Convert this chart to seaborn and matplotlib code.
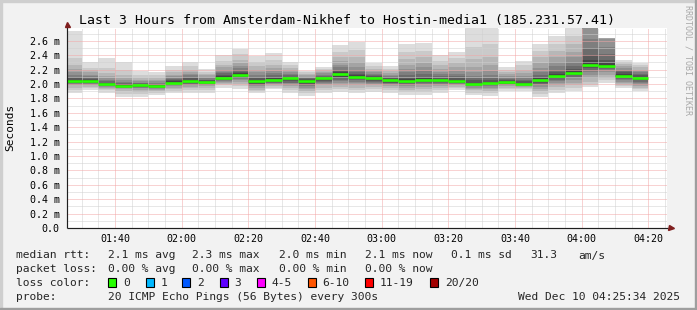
import numpy as np
import pandas as pd
import matplotlib
matplotlib.use("Agg")
import matplotlib.pyplot as plt
import seaborn as sns
from matplotlib.patches import Rectangle
from matplotlib.ticker import MultipleLocator, FixedLocator

# ---------------- data (values in ms) ----------------
window_start = "01:25:34"
window_end = "04:25:34"
bin_ends = ["01:30", "01:35", "01:40", "01:45", "01:50", "01:55", "02:00", "02:05",
            "02:10", "02:15", "02:20", "02:25", "02:30", "02:35", "02:40", "02:45",
            "02:50", "02:55", "03:00", "03:05", "03:10", "03:15", "03:20", "03:25",
            "03:30", "03:35", "03:40", "03:45", "03:50", "03:55", "04:00", "04:05",
            "04:10", "04:15", "04:20"]

medians = [2.045, 2.045, 2.000, 1.975, 1.980, 1.967, 2.017, 2.045, 2.022, 2.090,
           2.128, 2.045, 2.054, 2.077, 2.045, 2.077, 2.138, 2.100, 2.090, 2.054,
           2.045, 2.058, 2.054, 2.045, 2.000, 2.008, 2.022, 2.000, 2.054, 2.114,
           2.156, 2.270, 2.253, 2.114, 2.078]

pings = [
    [1.87, 1.92, 1.95, 1.98, 1.99, 2.00, 2.01, 2.02, 2.03, 2.04, 2.05, 2.06, 2.08, 2.10, 2.13, 2.17, 2.21, 2.26, 2.36, 2.74],
    [1.91, 1.94, 1.96, 1.98, 1.99, 2.00, 2.01, 2.02, 2.03, 2.04, 2.05, 2.06, 2.07, 2.09, 2.11, 2.13, 2.16, 2.19, 2.22, 2.30],
    [1.88, 1.91, 1.93, 1.95, 1.96, 1.97, 1.98, 1.985, 1.99, 1.995, 2.005, 2.01, 2.02, 2.04, 2.06, 2.08, 2.11, 2.15, 2.22, 2.36],
    [1.82, 1.86, 1.90, 1.93, 1.94, 1.95, 1.96, 1.965, 1.97, 1.975, 1.98, 1.99, 2.00, 2.01, 2.03, 2.05, 2.08, 2.12, 2.20, 2.31],
    [1.82, 1.86, 1.89, 1.92, 1.94, 1.95, 1.96, 1.965, 1.97, 1.975, 1.985, 1.99, 2.00, 2.01, 2.02, 2.04, 2.06, 2.09, 2.13, 2.18],
    [1.85, 1.88, 1.90, 1.92, 1.93, 1.94, 1.95, 1.955, 1.96, 1.965, 1.97, 1.98, 1.99, 2.00, 2.02, 2.04, 2.06, 2.09, 2.12, 2.16],
    [1.875, 1.90, 1.93, 1.95, 1.97, 1.98, 1.99, 2.00, 2.01, 2.015, 2.02, 2.035, 2.05, 2.07, 2.09, 2.11, 2.13, 2.16, 2.20, 2.245],
    [1.875, 1.91, 1.94, 1.96, 1.98, 1.99, 2.00, 2.01, 2.025, 2.04, 2.05, 2.06, 2.08, 2.10, 2.12, 2.14, 2.17, 2.20, 2.25, 2.31],
    [1.88, 1.92, 1.95, 1.97, 1.98, 1.99, 2.00, 2.01, 2.015, 2.02, 2.025, 2.04, 2.05, 2.06, 2.08, 2.10, 2.12, 2.14, 2.17, 2.21],
    [1.95, 1.98, 2.00, 2.02, 2.03, 2.04, 2.05, 2.06, 2.07, 2.085, 2.095, 2.11, 2.13, 2.15, 2.17, 2.20, 2.23, 2.27, 2.32, 2.40],
    [1.93, 1.97, 2.00, 2.03, 2.05, 2.07, 2.08, 2.09, 2.11, 2.12, 2.135, 2.15, 2.17, 2.19, 2.22, 2.25, 2.29, 2.34, 2.41, 2.49],
    [1.88, 1.90, 1.92, 1.95, 1.97, 1.98, 1.99, 2.00, 2.02, 2.04, 2.05, 2.06, 2.08, 2.10, 2.13, 2.16, 2.20, 2.25, 2.31, 2.39],
    [1.925, 1.95, 1.97, 1.99, 2.00, 2.01, 2.02, 2.03, 2.04, 2.05, 2.06, 2.08, 2.10, 2.12, 2.15, 2.18, 2.22, 2.27, 2.34, 2.43],
    [1.875, 1.91, 1.94, 1.97, 1.99, 2.01, 2.02, 2.04, 2.05, 2.07, 2.085, 2.09, 2.10, 2.12, 2.14, 2.16, 2.19, 2.22, 2.26, 2.31],
    [1.835, 1.87, 1.90, 1.93, 1.95, 1.97, 1.99, 2.00, 2.02, 2.04, 2.05, 2.055, 2.07, 2.08, 2.09, 2.10, 2.12, 2.14, 2.16, 2.18],
    [1.88, 1.92, 1.95, 1.98, 2.00, 2.02, 2.03, 2.04, 2.05, 2.07, 2.085, 2.09, 2.10, 2.11, 2.13, 2.15, 2.17, 2.19, 2.21, 2.235],
    [1.89, 1.93, 1.96, 1.99, 2.02, 2.04, 2.06, 2.08, 2.10, 2.13, 2.145, 2.16, 2.18, 2.20, 2.23, 2.27, 2.32, 2.38, 2.45, 2.54],
    [1.88, 1.92, 1.95, 1.98, 2.01, 2.03, 2.05, 2.07, 2.08, 2.095, 2.105, 2.12, 2.14, 2.17, 2.20, 2.24, 2.30, 2.37, 2.47, 2.59],
    [1.89, 1.93, 1.96, 1.98, 2.00, 2.02, 2.03, 2.045, 2.06, 2.085, 2.095, 2.10, 2.11, 2.12, 2.14, 2.16, 2.18, 2.21, 2.25, 2.285],
    [1.88, 1.92, 1.95, 1.97, 1.99, 2.00, 2.01, 2.02, 2.035, 2.05, 2.06, 2.07, 2.08, 2.10, 2.11, 2.13, 2.15, 2.18, 2.21, 2.25],
    [1.85, 1.89, 1.92, 1.95, 1.97, 1.99, 2.00, 2.02, 2.03, 2.04, 2.05, 2.07, 2.09, 2.12, 2.16, 2.21, 2.27, 2.35, 2.44, 2.555],
    [1.845, 1.89, 1.93, 1.96, 1.98, 2.00, 2.01, 2.025, 2.04, 2.055, 2.06, 2.08, 2.10, 2.14, 2.18, 2.23, 2.29, 2.37, 2.46, 2.57],
    [1.88, 1.92, 1.95, 1.97, 1.99, 2.00, 2.015, 2.03, 2.04, 2.05, 2.06, 2.07, 2.09, 2.11, 2.14, 2.17, 2.21, 2.26, 2.32, 2.40],
    [1.91, 1.94, 1.96, 1.98, 1.99, 2.00, 2.01, 2.02, 2.03, 2.04, 2.05, 2.06, 2.08, 2.11, 2.14, 2.18, 2.23, 2.29, 2.36, 2.45],
    [1.845, 1.88, 1.91, 1.93, 1.95, 1.97, 1.98, 1.99, 1.995, 2.00, 2.005, 2.02, 2.05, 2.08, 2.11, 2.16, 2.24, 2.35, 2.52, 2.90],
    [1.835, 1.87, 1.90, 1.93, 1.95, 1.97, 1.98, 1.99, 2.00, 2.005, 2.01, 2.03, 2.06, 2.09, 2.13, 2.18, 2.26, 2.38, 2.56, 2.90],
    [1.905, 1.93, 1.95, 1.97, 1.98, 1.99, 2.00, 2.005, 2.01, 2.02, 2.025, 2.035, 2.05, 2.07, 2.09, 2.11, 2.14, 2.17, 2.20, 2.24],
    [1.905, 1.93, 1.95, 1.96, 1.97, 1.98, 1.99, 1.995, 2.00, 2.00, 2.005, 2.02, 2.04, 2.06, 2.08, 2.11, 2.15, 2.20, 2.26, 2.32],
    [1.815, 1.86, 1.90, 1.93, 1.96, 1.98, 2.00, 2.02, 2.04, 2.05, 2.06, 2.08, 2.10, 2.13, 2.17, 2.22, 2.29, 2.37, 2.46, 2.555],
    [1.88, 1.92, 1.96, 1.99, 2.02, 2.04, 2.06, 2.08, 2.09, 2.11, 2.12, 2.14, 2.17, 2.20, 2.25, 2.31, 2.38, 2.46, 2.55, 2.665],
    [1.90, 1.95, 1.99, 2.02, 2.05, 2.08, 2.10, 2.12, 2.14, 2.15, 2.16, 2.18, 2.21, 2.25, 2.30, 2.37, 2.45, 2.55, 2.66, 2.85],
    [1.96, 1.99, 2.03, 2.08, 2.12, 2.16, 2.19, 2.22, 2.245, 2.26, 2.28, 2.33, 2.40, 2.50, 2.62, 2.90, 3.00, 3.10, 3.30, 3.60],
    [2.02, 2.05, 2.09, 2.13, 2.16, 2.19, 2.21, 2.23, 2.245, 2.25, 2.26, 2.29, 2.34, 2.42, 2.52, 2.63, 2.635, 2.637, 2.638, 2.64],
    [1.94, 1.97, 1.99, 2.01, 2.03, 2.05, 2.07, 2.08, 2.095, 2.11, 2.12, 2.14, 2.16, 2.18, 2.20, 2.22, 2.25, 2.28, 2.31, 2.33],
    [1.905, 1.93, 1.95, 1.97, 1.99, 2.01, 2.03, 2.05, 2.065, 2.075, 2.085, 2.10, 2.12, 2.14, 2.16, 2.18, 2.20, 2.23, 2.26, 2.285],
]

x_tick_labels = ["01:40", "02:00", "02:20", "02:40", "03:00", "03:20", "03:40", "04:00", "04:20"]
y_tick_values = [0.0, 0.2, 0.4, 0.6, 0.8, 1.0, 1.2, 1.4, 1.6, 1.8, 2.0, 2.2, 2.4, 2.6]
y_tick_labels = ["0.0", "0.2 m", "0.4 m", "0.6 m", "0.8 m", "1.0 m", "1.2 m", "1.4 m",
                 "1.6 m", "1.8 m", "2.0 m", "2.2 m", "2.4 m", "2.6 m"]
y_max = 2.7778

title = "Last 3 Hours from Amsterdam-Nikhef to Hostin-media1 (185.231.57.41)"
loss_labels = ["0", "1", "2", "3", "4-5", "6-10", "11-19", "20/20"]
loss_colors = ["#26ff00", "#00b8ff", "#0059ff", "#5e00ff", "#ff00ff", "#ff5500", "#ff0000", "#a10000"]


def to_min(s):
    parts = [int(p) for p in s.split(":")]
    while len(parts) < 3:
        parts.append(0)
    return parts[0] * 60 + parts[1] + parts[2] / 60.0


t0 = to_min(window_start)
t1 = to_min(window_end)
ends = np.array([to_min(s) for s in bin_ends])
starts = np.concatenate([[t0], ends[:-1]])
widths = ends - starts
P = np.array(pings)

# ---------------- figure ----------------
W, H = 697, 310
sns.set_theme(style="white")
plt.rcParams["font.family"] = ["DejaVu Sans Mono", "DejaVu Sans"]

fig = plt.figure(figsize=(W / 100, H / 100), dpi=100)
fig.patch.set_facecolor("#f2f2f2")


def fx(x):
    return x / W


def fy(y):
    return 1 - y / H


ax = fig.add_axes([fx(67), fy(228), 600 / W, 200 / H])
ax.set_facecolor("white")

# smoke bands
for k in range(10):
    ibot = k + 1
    g = int(190 / 10 * (10 - ibot)) + 50
    col = "#%02x%02x%02x" % (g, g, g)
    lo = P[:, k]
    hi = P[:, 19 - k]
    ax.bar(starts, hi - lo, width=widths, bottom=lo, align="edge", color=col,
           linewidth=0, antialiased=False, zorder=1)

# median line
rows = []
for i in range(len(medians)):
    rows.append({"bar": i, "t": starts[i], "median": medians[i]})
    rows.append({"bar": i, "t": ends[i], "median": medians[i]})
med_df = pd.DataFrame(rows)
sns.lineplot(data=med_df, x="t", y="median", units="bar", estimator=None,
             color="#26ff00", linewidth=1.9, ax=ax, legend=False,
             solid_capstyle="butt", zorder=4)

ax.set_xlim(t0, t1)
ax.set_ylim(0, y_max)
ax.set_xlabel("")
ax.set_ylabel("")

xt = [to_min(s) for s in x_tick_labels]
ax.xaxis.set_major_locator(FixedLocator(xt))
ax.set_xticklabels(x_tick_labels)
ax.xaxis.set_minor_locator(MultipleLocator(5))
ax.set_yticks(y_tick_values)
ax.set_yticklabels(y_tick_labels)
ax.yaxis.set_minor_locator(MultipleLocator(0.1))

ax.set_axisbelow(False)
ax.grid(which="minor", color="#d0d0d0", linestyle=(0, (1, 1)), linewidth=0.72, zorder=3)
ax.grid(which="major", color="#f3a6a6", linestyle=(0, (1, 1)), linewidth=0.72, zorder=3)

for s in ax.spines.values():
    s.set_visible(False)
ax.tick_params(axis="both", which="major", direction="out", length=2.2, width=0.72,
               color="#555555", labelsize=7.2, labelcolor="black")
ax.tick_params(axis="x", which="major", pad=2.4)
ax.tick_params(axis="y", which="major", pad=3.2)
ax.tick_params(axis="both", which="minor", direction="out", length=1.4, width=0.72,
               color="#888888")

# axis lines with arrows
ax.plot([0, 1.002], [0, 0], transform=ax.transAxes, color="#1f1f1f", lw=0.85,
        clip_on=False, zorder=5, solid_capstyle="butt")
ax.plot([0, 0], [0, 1.01], transform=ax.transAxes, color="#1f1f1f", lw=0.85,
        clip_on=False, zorder=5, solid_capstyle="butt")
ax.plot([1.0065], [0], transform=ax.transAxes, marker=">", ms=3.6, color="#801f1f",
        mec="#801f1f", clip_on=False, zorder=6)
ax.plot([0], [1.02], transform=ax.transAxes, marker="^", ms=3.6, color="#801f1f",
        mec="#801f1f", clip_on=False, zorder=6)

# frame (3D-shade border)
fig.patches.append(Rectangle((0, fy(2)), 1, 2 / H, transform=fig.transFigure, color="#cfcfcf", zorder=0))
fig.patches.append(Rectangle((0, 0), 2 / W, 1, transform=fig.transFigure, color="#cfcfcf", zorder=0))
fig.patches.append(Rectangle((0, 0), 1, 2 / H, transform=fig.transFigure, color="#9e9e9e", zorder=0))
fig.patches.append(Rectangle((fx(695), 0), 2 / W, 1, transform=fig.transFigure, color="#9e9e9e", zorder=0))

# texts
fig.text(fx(347), fy(24), title, ha="center", va="baseline", fontsize=9.5, color="black")
fig.text(fx(10), fy(127), "Seconds", rotation=90, ha="center", va="center", fontsize=8, color="black")
fig.text(fx(688), fy(60), "RRDTOOL / TOBI OETIKER", rotation=270, ha="center", va="center",
         fontsize=6, color="#a8a8a8")

lf = 8.1
r1, r2, r3, r4 = 258.5, 272.3, 286.2, 300.0
fig.text(fx(16), fy(r1), "median rtt:", fontsize=lf, va="baseline")
for x, s in [(107.6, "2.1 ms avg"), (192.4, "2.3 ms max"), (279, "2.0 ms min"),
             (365, "2.1 ms now"), (451, "0.1 ms sd"), (530, "31.3"), (578.7, "am/s")]:
    fig.text(fx(x), fy(r1), s, fontsize=lf, va="baseline")
fig.text(fx(16), fy(r2), "packet loss:", fontsize=lf, va="baseline")
for x, s in [(107.6, "0.00 % avg"), (192.4, "0.00 % max"), (279, "0.00 % min"), (365, "0.00 % now")]:
    fig.text(fx(x), fy(r2), s, fontsize=lf, va="baseline")
fig.text(fx(16), fy(r3), "loss color:", fontsize=lf, va="baseline")
box_x = [108, 145.8, 182, 219.6, 257, 307.6, 365, 430]
for bx, lab, c in zip(box_x, loss_labels, loss_colors):
    fig.patches.append(Rectangle((fx(bx), fy(286.5)), 8.4 / W, 8.4 / H, transform=fig.transFigure,
                                 facecolor=c, edgecolor="black", linewidth=0.8, zorder=2))
    fig.text(fx(bx + 15), fy(r3), lab, fontsize=lf, va="baseline")
fig.text(fx(16), fy(r4), "probe:", fontsize=lf, va="baseline")
fig.text(fx(107.6), fy(r4), "20 ICMP Echo Pings (56 Bytes) every 300s", fontsize=lf, va="baseline")
fig.text(fx(680), fy(r4), "Wed Dec 10 04:25:34 2025", fontsize=lf, va="baseline", ha="right")

fig.savefig("out.png", dpi=100, facecolor=fig.get_facecolor())
